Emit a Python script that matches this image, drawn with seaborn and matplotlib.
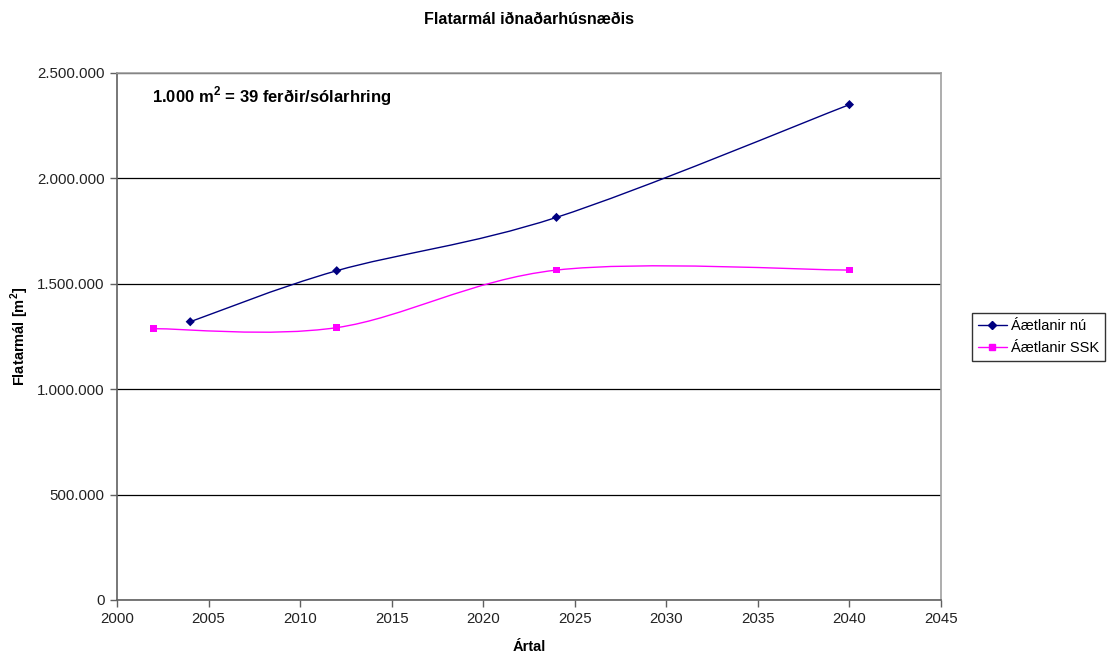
import matplotlib
matplotlib.use("Agg")
import matplotlib.pyplot as plt
from matplotlib.path import Path
from matplotlib.patches import PathPatch
from matplotlib.lines import Line2D
from matplotlib.ticker import FuncFormatter, MultipleLocator
import seaborn as sns
import pandas as pd
import numpy as np

# Series data
years_nu = [2004, 2012, 2024, 2040]
area_nu = [1320000, 1562000, 1815000, 2350000]
years_ssk = [2002, 2012, 2024, 2040]
area_ssk = [1287000, 1292000, 1565000, 1565000]
series_names = ["Áætlanir nú", "Áætlanir SSK"]
series_colors = ["#000080", "#FF00FF"]
series_markers = ["D", "s"]

sns.set_theme(style="white")
plt.rcParams["font.family"] = ["Liberation Sans", "DejaVu Sans"]
plt.rcParams["text.color"] = "#000000"
plt.rcParams["axes.labelcolor"] = "#000000"

df = pd.concat([
    pd.DataFrame({"Ártal": years_nu, "Flatarmál": area_nu, "Röð": series_names[0]}),
    pd.DataFrame({"Ártal": years_ssk, "Flatarmál": area_ssk, "Röð": series_names[1]}),
])

fig = plt.figure(figsize=(11.09, 6.54), dpi=100)
ax = fig.add_axes([0.1055, 0.0826, 0.743, 0.8058])


def smooth_path(xs, ys):
    """Cubic Bezier path through the points (Catmull-Rom style tangents)."""
    pts = np.column_stack([xs, ys]).astype(float)
    n = len(pts)
    verts = [pts[0]]
    codes = [Path.MOVETO]
    for i in range(n - 1):
        p0 = pts[i - 1] if i > 0 else pts[i]
        p1 = pts[i]
        p2 = pts[i + 1]
        p3 = pts[i + 2] if i + 2 < n else pts[i + 1]
        c1 = p1 + (p2 - p0) / 6.0
        c2 = p2 - (p3 - p1) / 6.0
        verts += [c1, c2, p2]
        codes += [Path.CURVE4] * 3
    return Path(verts, codes)


for name, color, xs, ys in zip(series_names, series_colors,
                               [years_nu, years_ssk], [area_nu, area_ssk]):
    ax.add_patch(PathPatch(smooth_path(xs, ys), facecolor="none",
                           edgecolor=color, lw=1.0, zorder=3))

sns.scatterplot(data=df, x="Ártal", y="Flatarmál", hue="Röð", style="Röð",
                palette=dict(zip(series_names, series_colors)),
                markers=dict(zip(series_names, series_markers)),
                s=22, edgecolor="none", legend=False, ax=ax, zorder=4)

ax.set_xlim(2000, 2045)
ax.set_ylim(0, 2500000)
ax.xaxis.set_major_locator(MultipleLocator(5))
ax.yaxis.set_major_locator(MultipleLocator(500000))
ax.yaxis.set_major_formatter(FuncFormatter(lambda v, p: f"{int(v):,}".replace(",", ".")))

ax.grid(axis="y", color="#000000", lw=0.9)
ax.set_axisbelow(True)
for side in ["top", "right"]:
    ax.spines[side].set_color("#A0A0A0")
    ax.spines[side].set_linewidth(1.2)
for side in ["left", "bottom"]:
    ax.spines[side].set_color("#606060")
    ax.spines[side].set_linewidth(1.2)

ax.tick_params(axis="both", which="major", direction="out", length=5, width=1,
               color="#606060", labelsize=10.8, labelcolor="#222222", pad=4,
               left=True, bottom=True)

ax.set_xlabel("Ártal", fontsize=10.5, fontweight="bold", labelpad=10)
ax.set_ylabel("Flatarmál [m$^\\mathregular{2}$]", fontsize=10.5, fontweight="bold", labelpad=4)

fig.text(529 / 1109, 1 - 20 / 654, "Flatarmál iðnaðarhúsnæðis",
         ha="center", va="center", fontsize=11.5, fontweight="bold")

ax.text(2001.9, 2390000, "1.000 m$^\\mathregular{2}$ = 39 ferðir/sólarhring",
        ha="left", va="center", fontsize=12, fontweight="bold")

handles = [Line2D([0], [0], color=c, marker=m, markersize=4, lw=1.0,
                  markeredgecolor=c)
           for c, m in zip(series_colors, series_markers)]
leg = fig.legend(handles, series_names, loc="center left",
                 bbox_to_anchor=(972 / 1109, 1 - 337 / 654),
                 fontsize=10.5, frameon=True, fancybox=False,
                 edgecolor="#000000", handlelength=2.0, handletextpad=0.3,
                 borderpad=0.4, labelspacing=0.6, borderaxespad=0)
leg.get_frame().set_linewidth(1.0)

fig.savefig("out.png", dpi=100)
